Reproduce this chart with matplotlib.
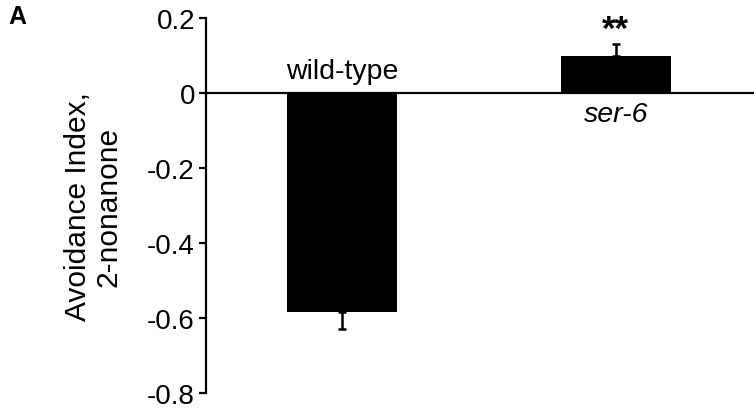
import matplotlib
matplotlib.use('Agg')
import matplotlib.pyplot as plt

# Dados do gráfico
genotipos = ['wild-type', 'ser-6']
indice_evitacao = [-0.585, 0.10]
erro = [0.045, 0.032]
yticks = [0.2, 0, -0.2, -0.4, -0.6, -0.8]
ytick_labels = ['0.2', '0', '-0.2', '-0.4', '-0.6', '-0.8']

plt.rcParams['font.family'] = ['Liberation Sans', 'DejaVu Sans']

fig = plt.figure(figsize=(7.54, 4.10), dpi=100)
ax = fig.add_axes([206 / 754, 16 / 410, 548 / 754, 375 / 410])

x = range(len(genotipos))
ax.bar(x, indice_evitacao, width=0.40, color='black', zorder=2)

# barras de erro só para o lado do valor
for i, (v, e) in enumerate(zip(indice_evitacao, erro)):
    lower = e if v < 0 else 0
    upper = e if v > 0 else 0
    ax.errorbar(i, v, yerr=[[lower], [upper]], fmt='none', ecolor='black',
                elinewidth=1.8, capsize=3, capthick=1.8, zorder=1)

ax.axhline(0, color='black', linewidth=1.6, zorder=3)

ax.set_xlim(-0.496, 1.504)
ax.set_ylim(-0.8, 0.2)
ax.set_yticks(yticks)
ax.set_yticklabels(ytick_labels, fontsize=20)
ax.set_xticks([])
for s in ['top', 'right', 'bottom']:
    ax.spines[s].set_visible(False)
ax.spines['left'].set_linewidth(1.6)
ax.spines['left'].set_bounds(-0.8, 0.2)
ax.tick_params(axis='y', direction='out', length=5, width=1.6, pad=3)

ax.set_ylabel('Avoidance Index,\n2-nonanone', fontsize=21.5, linespacing=1.1, labelpad=18)

# rótulos dos genótipos
ax.text(0, 0.04, genotipos[0], ha='center', va='baseline', fontsize=20.5)
ax.text(1, -0.022, genotipos[1], ha='center', va='top', fontsize=20.5, style='italic')
ax.text(1, 0.17, '**', ha='center', va='center', fontsize=25, fontweight='bold')

fig.text(8 / 754, 1 - 17 / 410, 'A', fontsize=18, fontweight='bold', ha='left', va='center')

fig.savefig('out.png', dpi=100)
